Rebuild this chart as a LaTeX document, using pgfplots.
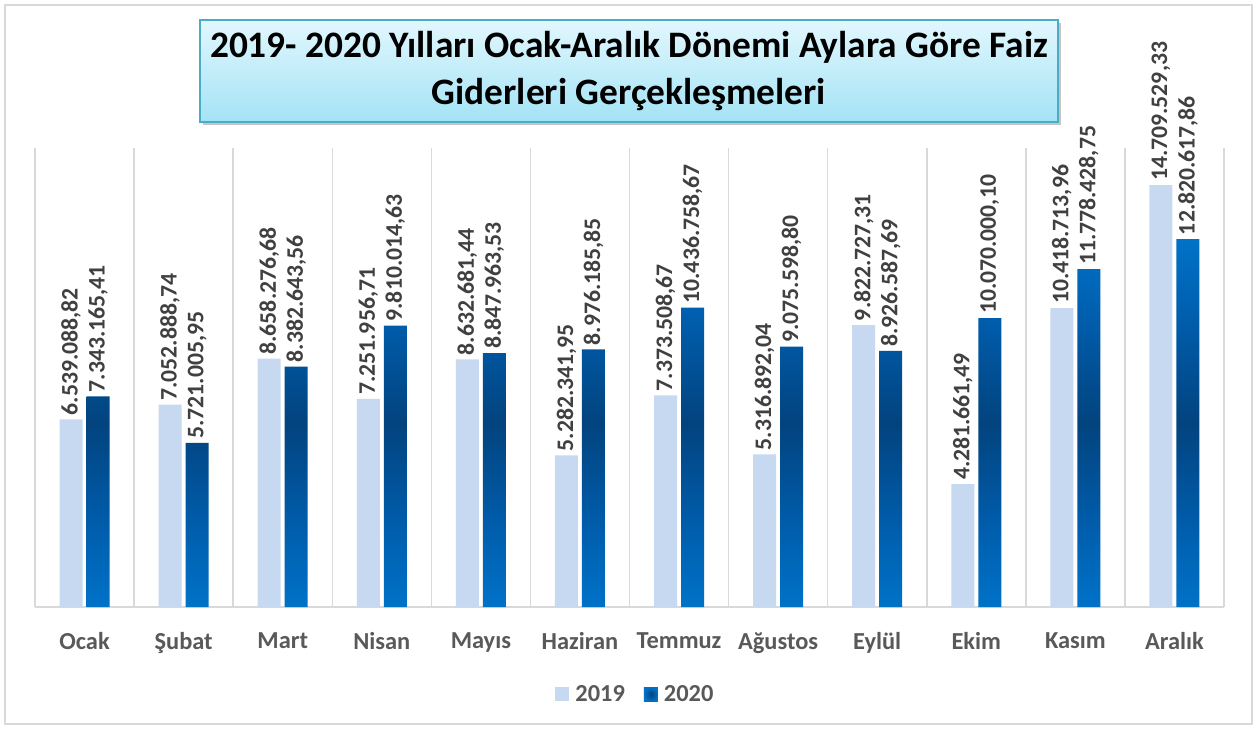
\documentclass[border=0pt]{standalone}
\usepackage{fontspec}
\setmainfont{Carlito}
\usepackage{pgfplots}
\pgfplotsset{compat=1.18}
\usepackage{pgfplotstable}
\usetikzlibrary{shadows}
\definecolor{c19}{HTML}{C6D9F0}
\definecolor{c20a}{HTML}{0072C8}
\definecolor{c20m}{HTML}{005DAC}
\definecolor{c20b}{HTML}{02437E}
\definecolor{gridc}{HTML}{D9D9D9}
\definecolor{lblc}{HTML}{404040}
\definecolor{catc}{HTML}{595959}
\definecolor{boxtop}{HTML}{E2F7FD}
\definecolor{boxbot}{HTML}{A3E3F6}
\definecolor{boxdraw}{HTML}{4BACC6}
\pgfdeclareverticalshading{barshade}{100bp}{color(0bp)=(c20a); color(25bp)=(c20a); color(36bp)=(c20m); color(50bp)=(c20b); color(64bp)=(c20m); color(75bp)=(c20a); color(100bp)=(c20a)}

\pgfplotstableread{
x y lab
0 6539088.82 6.539.088,82
1 7052888.74 7.052.888,74
2 8658276.68 8.658.276,68
3 7251956.71 7.251.956,71
4 8632681.44 8.632.681,44
5 5282341.95 5.282.341,95
6 7373508.67 7.373.508,67
7 5316892.04 5.316.892,04
8 9822727.31 9.822.727,31
9 4281661.49 4.281.661,49
10 10418713.96 10.418.713,96
11 14709529.33 14.709.529,33
}\dataA
\pgfplotstableread{
x y lab
0 7343165.41 7.343.165,41
1 5721005.95 5.721.005,95
2 8382643.56 8.382.643,56
3 9810014.63 9.810.014,63
4 8847963.53 8.847.963,53
5 8976185.85 8.976.185,85
6 10436758.67 10.436.758,67
7 9075598.80 9.075.598,80
8 8926587.69 8.926.587,69
9 10070000.10 10.070.000,10
10 11778428.75 11.778.428,75
11 12820617.86 12.820.617,86
}\dataB

\begin{document}
\begin{tikzpicture}
\fill[white] (0bp,0bp) rectangle (1258bp,729bp);
\draw[gridc, line width=1.2bp] (5bp,5bp) rectangle (1252bp,724bp);
\begin{axis}[
  at={(35bp,122bp)}, anchor=south west,
  scale only axis, width=1189bp, height=459bp,
  xmin=-0.5, xmax=11.5, ymin=0, ymax=16000000,
  clip=false,
  ybar=4bp, bar width=23bp,
  axis x line*=bottom, axis y line=none,
  x axis line style={gridc, line width=1.5bp, -},
  xtick={0,...,11},
  xticklabels={Ocak,Şubat,Mart,Nisan,Mayıs,Haziran,Temmuz,Ağustos,Eylül,Ekim,Kasım,Aralık},
  xtick style={draw=none},
  minor xtick={-0.5,0.5,...,11.5},
  minor x tick style={draw=none},
  minor x grid style={gridc, line width=1.5bp},
  xminorgrids=true,
  xticklabel style={font=\bfseries\fontsize{24.5}{27}\selectfont, text=catc, yshift=-18bp},
  nodes near coords,
  point meta=explicit symbolic,
  every node near coord/.append style={rotate=90, anchor=west, inner sep=4bp, font=\bfseries\fontsize{23.8}{26}\selectfont, text=lblc},
  legend style={at={(0.505,-0.19)}, anchor=center, draw=none, fill=none,
    legend columns=2, font=\bfseries\fontsize{24.5}{27}\selectfont, text=catc,
    /tikz/every even column/.append style={column sep=17bp},
    /tikz/every odd column/.append style={column sep=0bp}},
]
\addplot[fill=c19, draw=none,
  legend image code/.code={\fill[c19] (0bp,-7bp) rectangle (14bp,7bp);}]
  table[x=x, y=y, meta=lab] {\dataA};
\addplot[draw=none, shade, shading=barshade,
  legend image code/.code={\shade[inner color=c20b, outer color=c20a] (0bp,-7bp) rectangle (14bp,7bp);}]
  table[x=x, y=y, meta=lab] {\dataB};
\legend{\hspace{4bp}2019,\hspace{4bp}2020}
\end{axis}
\node[draw=boxdraw, line width=1.5bp, top color=boxtop, bottom color=boxbot,
  minimum width=858bp, minimum height=102bp, align=center,
  font=\bfseries\fontsize{37.5}{47}\selectfont,
  drop shadow={shadow xshift=3bp, shadow yshift=-3bp, opacity=0.45}]
  at (629bp,658bp) {2019- 2020 Yılları Ocak-Aralık Dönemi Aylara Göre Faiz\\Giderleri Gerçekleşmeleri};
\pgfresetboundingbox
\path (0bp,0bp) rectangle (1258bp,729bp);
\end{tikzpicture}
\end{document}
